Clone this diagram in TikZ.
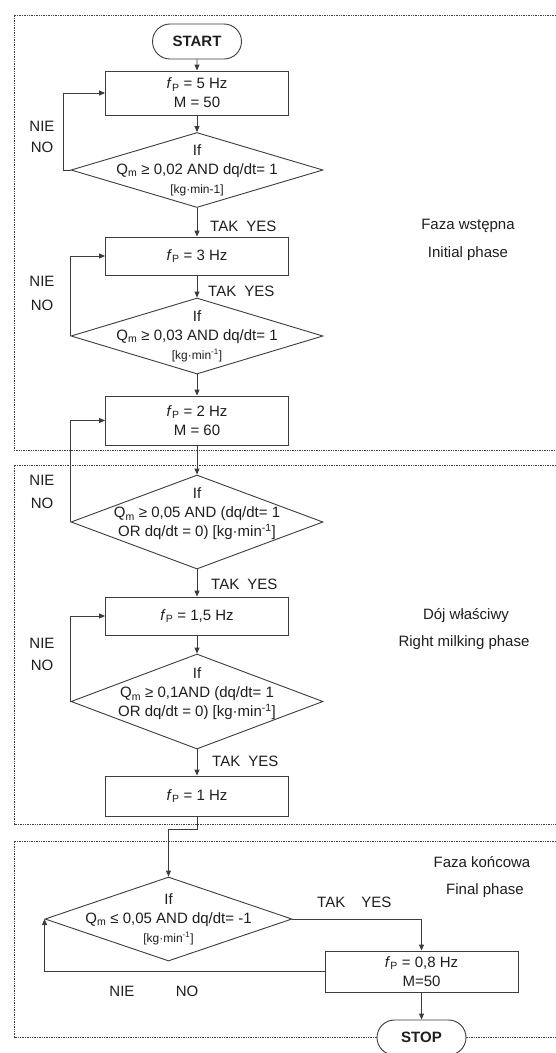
\documentclass[tikz,border=0pt]{standalone}
\usepackage{fontspec}
\setmainfont{Liberation Sans}
\usetikzlibrary{shapes.geometric,shapes.misc,arrows.meta}
\definecolor{ln}{HTML}{3C3C3C}
\definecolor{tx}{HTML}{1E1E1E}
\definecolor{bd}{HTML}{404040}
\newcommand\fPsym{\textit{f}\textsubscript{P}}
\newcommand\unitsm[1]{{\fontsize{12}{19}\selectfont #1}}
\begin{document}
\begin{tikzpicture}[x=1pt,y=-1pt,
  every node/.style={font=\fontsize{15}{19}\selectfont, text=tx},
  proc/.style={draw=ln, line width=0.9pt, fill=white, minimum width=183pt, inner sep=0pt, align=center},
  term/.style={draw=ln, line width=0.9pt, rounded rectangle, fill=white, minimum width=89pt, minimum height=35pt, inner sep=0pt, font=\fontsize{15}{19}\selectfont\bfseries},
  decision/.style={draw=ln, line width=0.9pt, diamond, inner sep=0pt, minimum width=252pt},
  dtext/.style={align=center, inner sep=0pt},
  lbl/.style={inner sep=0pt},
  flow/.style={draw=ln, line width=0.9pt, -{Triangle[length=6pt,width=5pt]}},
  phase/.style={draw=bd, line width=1pt, dash pattern=on 1.4pt off 1pt},
]
\useasboundingbox[fill=white] (0,0) rectangle (555,1053);

% phase frames
\draw[phase] (556,15) -- (14,15) -- (14,450) -- (556,450);
\draw[phase] (556,465) -- (14,465) -- (14,824) -- (556,824);
\draw[phase] (556,841) -- (14,841) -- (14,1037) -- (556,1037);

% nodes
\node[term] (start) at (197,41.5) {START};
\node[proc, minimum height=44pt] (b1) at (197,93) {\fPsym{} = 5 Hz\\M = 50};
\node[decision, minimum height=75pt] (d1) at (197,170) {};
\node[dtext] (d1t) at (197,170) {If\\Q\textsubscript{m} ≥ 0,02 AND dq/dt= 1\\\unitsm{[kg·min-1]}};
\node[proc, minimum height=38pt] (b2) at (197,256) {\fPsym{} = 3 Hz};
\node[decision, minimum height=76pt] (d2) at (197,336) {};
\node[dtext] (d2t) at (197,336) {If\\Q\textsubscript{m} ≥ 0,03 AND dq/dt= 1\\\unitsm{[kg·min\textsuperscript{-1}]}};
\node[proc, minimum height=49pt] (b3) at (197,420.5) {\fPsym{} = 2 Hz\\M = 60};
\node[decision, minimum height=94pt] (d3) at (197,522) {};
\node[dtext] (d3t) at (197,514) {If\\Q\textsubscript{m} ≥ 0,05 AND (dq/dt= 1\\OR dq/dt = 0) [kg·min\textsuperscript{-1}]};
\node[proc, minimum height=38pt] (b4) at (197,616) {\fPsym{} = 1,5 Hz};
\node[decision, minimum height=95pt] (d4) at (197,701.5) {};
\node[dtext] (d4t) at (197,694) {If\\Q\textsubscript{m} ≥ 0,1AND (dq/dt= 1\\ OR dq/dt = 0) [kg·min\textsuperscript{-1}]};
\node[proc, minimum height=40pt] (b5) at (197,796) {\fPsym{} = 1 Hz};
\node[decision, minimum width=247pt, minimum height=84pt] (d5) at (168.5,919) {};
\node[dtext] (d5t) at (168.5,919) {If\\Q\textsubscript{m} ≤ 0,05 AND dq/dt= -1\\\unitsm{[kg·min\textsuperscript{-1}]}};
\node[proc, minimum width=193pt, minimum height=41pt] (b6) at (421.5,971.5) {\fPsym{} = 0,8 Hz\\M=50};
\node[term] (stop) at (421.5,1037.5) {STOP};

% main flow
\draw[flow] (start) -- (b1);
\draw[flow] (b1) -- (d1);
\draw[flow] (d1) -- (b2);
\draw[flow] (b2) -- (d2);
\draw[flow] (d2) -- (b3);
\draw[flow] (b3) -- (d3);
\draw[flow] (d3) -- (b4);
\draw[flow] (b4) -- (d4);
\draw[flow] (d4) -- (b5);
\draw[flow] (b5.south) -- ++(0,13) -| (d5.north);
\draw[flow] (d5.east) -| (b6.north);
\draw[flow] (b6) -- (stop);

% loops (NIE / NO)
\draw[flow] (d1.west) -- ++(-7,0) |- (b1.west);
\draw[flow] (d2.west) |- (b2.west);
\draw[flow] (d3.west) |- (b3.west);
\draw[flow] (d4.west) |- (b4.west);
\draw[flow] (b6.west) -| (d5.west);

% yes labels
\node[lbl, anchor=west] (y1) at (210,226) {TAK\hspace{8pt}YES};
\node[lbl, anchor=west] (y2) at (208,291) {TAK\hspace{8pt}YES};
\node[lbl, anchor=west] (y3) at (211,584) {TAK\hspace{8pt}YES};
\node[lbl, anchor=west] (y4) at (212,761) {TAK\hspace{8pt}YES};
\node[lbl, anchor=west] (y5) at (317,902) {TAK\hspace{16pt}YES};

% no labels
\node[lbl] (n1a) at (42,126) {NIE};
\node[lbl] (n1b) at (42,147) {NO};
\node[lbl] (n2a) at (42,281) {NIE};
\node[lbl] (n2b) at (42,305) {NO};
\node[lbl] (n3a) at (42,480) {NIE};
\node[lbl] (n3b) at (42,503) {NO};
\node[lbl] (n4a) at (42,643) {NIE};
\node[lbl] (n4b) at (42,665) {NO};
\node[lbl] (n5a) at (122,991) {NIE};
\node[lbl] (n5b) at (187,991) {NO};

% phase labels
\node[lbl] (p1a) at (468,226) {Faza wstępna};
\node[lbl] (p1b) at (468,254) {Initial phase};
\node[lbl] (p2a) at (466,616) {Dój właściwy};
\node[lbl] (p2b) at (464,643) {Right milking phase};
\node[lbl] (p3a) at (482,862) {Faza końcowa};
\node[lbl] (p3b) at (485,891) {Final phase};
\end{tikzpicture}
\end{document}
